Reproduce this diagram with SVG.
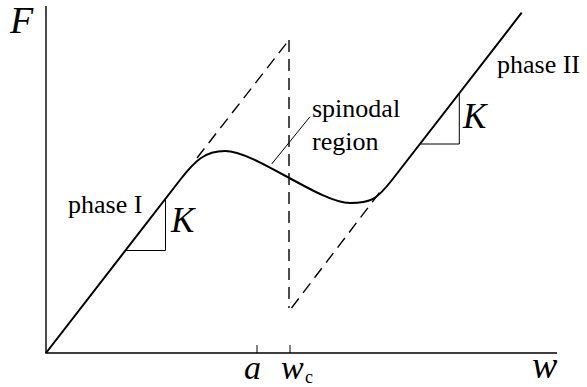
<svg xmlns="http://www.w3.org/2000/svg" width="587" height="387" viewBox="0 0 587 387">
<style>
.t{font-family:"Liberation Serif","Times New Roman",serif;fill:#000}
.i{font-style:italic}
.ax{stroke:#000;stroke-width:1.4;fill:none}
.thin{stroke:#000;stroke-width:1;fill:none}
.curve{stroke:#000;stroke-width:2;fill:none;stroke-linejoin:round}
.dash{stroke:#000;stroke-width:1.4;fill:none;stroke-dasharray:12 7}
</style>
<rect width="587" height="387" fill="#fff"/>
<g id="axes">
<path class="ax" d="M46,6 V353 H557"/>
<path class="thin" d="M257,345 V353 M290,345 V353"/>
</g>
<g id="connectors">
<path class="dash" d="M289,40 V308"/>
<path class="dash" d="M197,158 L289,40"/>
<path class="dash" d="M291.5,308 L383,188"/>
<path class="thin" d="M271.7,164 L310,116.7"/>
</g>
<g id="curve">
<path class="curve" d="M46,353 L180,180 C195,160.6 205,151 225,151 C255,151 320,203 350,203 C370,203 376,200.6 392,180 L521.7,12.7"/>
</g>
<g id="slope1">
<path class="thin" d="M125.8,250.5 H165.5 V198.5"/>
<text class="t i" x="171" y="232" font-size="35">K</text>
</g>
<g id="slope2">
<path class="thin" d="M420.5,144 H459.3 V94"/>
<text class="t i" x="463" y="128" font-size="35">K</text>
</g>
<g id="labels">
<text class="t i" x="10" y="33" font-size="38">F</text>
<text class="t" x="312" y="117" font-size="26">spinodal</text>
<text class="t" x="312" y="150" font-size="26">region</text>
<text class="t" x="497" y="73" font-size="26">phase II</text>
<text class="t" x="68" y="213" font-size="26">phase I</text>
<text class="t i" x="244" y="379" font-size="34">a</text>
<text class="t i" x="281" y="379" font-size="34">w</text>
<text class="t" x="305" y="383" font-size="18">c</text>
<text class="t i" x="532" y="378" font-size="38">w</text>
</g>
</svg>
